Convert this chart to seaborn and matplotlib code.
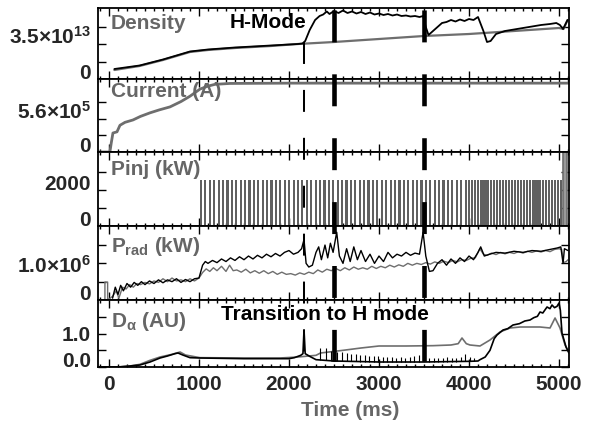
import numpy as np
import matplotlib
matplotlib.use("Agg")
import matplotlib.pyplot as plt
from matplotlib.ticker import MultipleLocator
import seaborn as sns

# ---- data (time in ms) ----
# Density (units of 1e13)
dens_t_gray = [60, 340, 600, 900, 1100, 1400, 1800, 2100, 2500, 3000, 3500, 4000, 4500, 5000, 5050, 5095]
dens_gray = [0.9, 1.3, 1.9, 2.7, 2.9, 3.1, 3.3, 3.5, 3.7, 4.0, 4.3, 4.5, 4.8, 5.1, 5.0, 5.9]
dens_t_black = [60, 340, 600, 900, 1100, 1400, 1800, 2100, 2150, 2180, 2230, 2290, 2340, 2380, 2420,
                2450, 2500, 2550, 2600, 2650, 2700, 2750, 2800, 2850, 2900, 2950, 3000, 3050, 3100,
                3150, 3200, 3250, 3300, 3350, 3400, 3450, 3490, 3520, 3550, 3600, 3650, 3700, 3750,
                3800, 3850, 3900, 3950, 4000, 4050, 4100, 4130, 4160, 4200, 4240, 4300, 4400, 4500,
                4600, 4700, 4800, 4900, 4970, 5010, 5045, 5095]
dens_black = [1.0, 1.35, 1.95, 2.75, 2.95, 3.15, 3.35, 3.5, 3.55, 3.8, 4.9, 5.9, 6.3, 6.45, 6.75,
              6.5, 6.8, 6.6, 6.85, 6.6, 6.75, 6.55, 6.7, 6.5, 6.65, 6.45, 6.55, 6.4, 6.5,
              6.35, 6.45, 6.3, 6.35, 6.25, 6.3, 6.2, 6.3, 5.2, 4.4, 4.8, 5.2, 5.6, 5.7,
              5.9, 5.75, 5.95, 5.8, 6.0, 5.9, 6.2, 5.5, 4.8, 3.7, 3.8, 4.5, 4.8, 4.95,
              5.1, 5.25, 5.4, 5.5, 5.6, 5.4, 5.0, 5.9]

# Plasma current (units of 1e5 A)
cur_t = [-120, 10, 25, 44, 89, 122, 178, 267, 350, 456, 560, 678, 800, 900, 1011, 1100, 1178, 1344, 2000, 5110]
cur = [0, 0, 1.5, 3.2, 3.4, 4.5, 5.0, 5.4, 6.0, 6.6, 7.1, 7.6, 8.5, 9.4, 10.6, 11.1, 11.4, 11.55, 11.6, 11.6]

# Injected beam power pulses (kW)
pinj_t = [1010, 1059, 1108, 1157, 1206, 1255, 1304, 1353, 1402, 1451, 1500, 1549, 1598, 1647, 1696,
          1745, 1794, 1843, 1892, 1941, 1990, 2039, 2088, 2137, 2186, 2235, 2284, 2333, 2382, 2431,
          2480, 2529, 2578, 2627, 2676, 2725, 2774, 2823, 2872, 2921, 2970, 3019, 3068, 3117, 3166,
          3215, 3264, 3313, 3362, 3411, 3460, 3509, 3558, 3607, 3656, 3705, 3754, 3803, 3852, 3901,
          3950, 3990, 4024, 4058, 4092, 4126, 4160, 4194, 4228, 4262, 4296, 4330, 4364, 4398, 4432,
          4466, 4500, 4534, 4568, 4602, 4636, 4670, 4704, 4738, 4772, 4806, 4840, 4874, 4908, 4942,
          4976, 5010]
pinj_level = 2560
pinj_last_t = 5040
pinj_last_level = 5000

# Radiated power (units of 1e6 kW)
prad_t_black = [40, 70, 100, 130, 160, 200, 240, 280, 320, 360, 400, 450, 500, 550, 600, 650, 700, 750,
                800, 850, 900, 950, 1000, 1040, 1070, 1100, 1150, 1200, 1250, 1300, 1350, 1400, 1450,
                1500, 1550, 1600, 1650, 1700, 1750, 1800, 1850, 1900, 1950, 2000, 2050, 2100, 2140,
                2167, 2190, 2220, 2260, 2300, 2330, 2360, 2400, 2430, 2460, 2490, 2530, 2560, 2600,
                2640, 2680, 2720, 2760, 2800, 2850, 2900, 2950, 3000, 3050, 3100, 3150, 3200, 3250,
                3300, 3350, 3400, 3450, 3490, 3520, 3560, 3600, 3650, 3700, 3750, 3800, 3850, 3900,
                3950, 4000, 4050, 4100, 4130, 4170, 4230, 4300, 4400, 4500, 4600, 4700, 4800, 4900,
                4980, 5020, 5045, 5060, 5100]
prad_black = [0.05, 0.35, 0.15, 0.40, 0.25, 0.45, 0.35, 0.48, 0.40, 0.50, 0.42, 0.52, 0.45, 0.55, 0.47,
              0.55, 0.50, 0.58, 0.48, 0.56, 0.50, 0.58, 0.60, 0.95, 1.05, 1.00, 1.08, 1.02, 1.12, 1.05,
              1.15, 1.08, 1.18, 1.10, 1.20, 1.12, 1.22, 1.15, 1.25, 1.18, 1.27, 1.20, 1.30, 1.35, 1.25,
              1.30, 1.40, 1.65, 1.00, 0.90, 0.95, 1.30, 1.45, 1.10, 1.50, 1.15, 1.55, 1.30, 1.85, 1.20,
              1.00, 1.40, 1.05, 1.45, 1.10, 1.35, 1.05, 1.25, 1.00, 1.20, 1.05, 1.30, 1.15, 1.25, 1.20,
              1.30, 1.22, 1.28, 1.25, 1.85, 1.20, 0.78, 0.80, 1.00, 1.10, 0.95, 1.12, 1.00, 1.15, 1.05,
              1.20, 1.10, 1.30, 1.45, 1.20, 1.25, 1.30, 1.28, 1.33, 1.30, 1.35, 1.33, 1.38, 1.42, 1.45,
              1.00, 1.40, 1.35]
prad_t_gray = [-120, -45, -45, -15, -15, 40, 80, 110, 150, 190, 230, 270, 310, 350, 400, 450, 500, 550,
               600, 650, 700, 750, 800, 850, 900, 950, 1000, 1040, 1080, 1120, 1160, 1200, 1250, 1300,
               1340, 1380, 1420, 1470, 1520, 1570, 1620, 1670, 1720, 1770, 1820, 1870, 1920, 1970,
               2020, 2070, 2120, 2170, 2220, 2270, 2320, 2370, 2420, 2470, 2520, 2570, 2620, 2670,
               2720, 2770, 2820, 2870, 2920, 2970, 3020, 3070, 3120, 3170, 3220, 3270, 3320, 3370,
               3420, 3470, 3520, 3570, 3620, 3670, 3720, 3770, 3820, 3870, 3920, 3970, 4020, 4070,
               4120, 4160, 4200, 4250, 4300, 4350, 4400, 4450, 4500, 4550, 4600, 4650, 4700, 4750,
               4800, 4850, 4900, 4950, 5000, 5030, 5050, 5080, 5100]
prad_gray = [0, 0, 0.49, 0.49, 0, 0.10, 0.25, 0.05, 0.35, 0.30, 0.42, 0.35, 0.45, 0.42, 0.48, 0.44,
             0.52, 0.48, 0.58, 0.50, 0.60, 0.52, 0.55, 0.50, 0.58, 0.52, 0.60, 0.75, 0.85, 0.78, 0.88,
             0.80, 0.92, 0.78, 0.95, 0.80, 0.82, 0.76, 0.84, 0.74, 0.80, 0.73, 0.80, 0.72, 0.78, 0.70,
             0.76, 0.70, 0.72, 0.68, 0.74, 0.70, 0.76, 0.72, 0.82, 0.76, 0.84, 0.80, 0.86, 0.80, 0.88,
             0.82, 0.90, 0.84, 0.88, 0.84, 0.92, 0.86, 0.92, 0.88, 0.95, 0.90, 0.96, 0.92, 1.00, 0.95,
             1.00, 0.97, 1.02, 0.98, 1.04, 1.00, 1.06, 1.02, 1.08, 1.04, 1.10, 1.08, 1.14, 1.15, 1.40,
             1.25, 1.22, 1.28, 1.24, 1.30, 1.26, 1.30, 1.27, 1.32, 1.28, 1.33, 1.30, 1.34, 1.31, 1.35,
             1.32, 1.38, 1.40, 1.38, 1.02, 1.05, 1.10]

# D-alpha (AU)
da_t_black = [-120, 100, 233, 344, 456, 567, 650, 733, 767, 820, 900, 1011, 1500, 2000, 2060, 2130,
              2155, 2167, 2180, 2230, 2300, 2500, 3000, 3500, 4000, 4100, 4122, 4180, 4233, 4280,
              4311, 4378, 4430, 4489, 4560, 4620, 4678, 4720, 4760, 4789, 4820, 4867, 4900, 4922,
              4950, 4978, 5000, 5015, 5033, 5078, 5110]
da_black = [0, 0, 0.03, 0.06, 0.15, 0.27, 0.33, 0.40, 0.42, 0.36, 0.28, 0.27, 0.25, 0.25, 0.28, 0.35,
            0.40, 1.11, 0.40, 0.32, 0.22, 0.18, 0.15, 0.15, 0.17, 0.18, 0.22, 0.30, 0.50, 0.85,
            0.96, 1.11, 1.15, 1.26, 1.30, 1.38, 1.41, 1.48, 1.52, 1.65, 1.62, 1.80, 1.75, 1.86,
            1.78, 1.82, 1.92, 1.70, 1.02, 0.60, 0.42]
da_t_gray = [-120, 100, 233, 344, 456, 567, 700, 790, 850, 1011, 1500, 1900, 2100, 2300, 2350, 2600,
             2800, 3000, 3300, 3600, 3800, 3880, 3922, 3970, 4011, 4122, 4233, 4344, 4456, 4567,
             4789, 4900, 4956, 5011, 5067, 5110]
da_gray = [0, 0, 0.03, 0.08, 0.20, 0.30, 0.38, 0.45, 0.36, 0.28, 0.27, 0.27, 0.30, 0.35, 0.42, 0.50,
           0.57, 0.63, 0.63, 0.64, 0.66, 0.70, 0.87, 0.70, 0.66, 0.63, 0.81, 1.05, 1.17, 1.20,
           1.20, 1.17, 1.47, 1.17, 0.66, 0.45]
elm_t = [2344, 2411, 2470, 2530, 2590, 2640, 2690, 2740, 2790, 2840, 2890, 2940, 2990, 3040, 3090,
         3140, 3190, 3240, 3290, 3340, 3390, 3440, 3560, 3610, 3660, 3710, 3760, 3810, 3860, 3910,
         3960, 4010, 4060]
elm_peak = [0.57, 0.57, 0.48, 0.46, 0.45, 0.42, 0.40, 0.38, 0.36, 0.35, 0.33, 0.33, 0.32, 0.30, 0.30,
            0.30, 0.28, 0.30, 0.28, 0.30, 0.32, 0.35, 0.28, 0.26, 0.28, 0.26, 0.30, 0.28, 0.26, 0.30,
            0.38, 0.30, 0.28]

event_t = [2167, 2500, 3500]   # thin dashed, thick dashed, thick dashed

panel_names = ["Density", "Current (A)", "Pinj (kW)", r"$P_{rad}$ (kW)", r"$D_{\alpha}$ (AU)"]
panel_ticks = [[0, 1.75, 3.5, 5.25], [0, 2.8, 5.6, 8.4], [0, 1000, 2000, 3000],
               [0, 0.5, 1.0, 1.5], [0, 0.5, 1.0, 1.5]]
panel_ticklabels = [["0", "", r"$3.5{\times}10^{13}$", ""],
                    ["0", "", r"$5.6{\times}10^{5}$", ""],
                    ["0", "", "2000", ""],
                    ["0", "", r"$1.0{\times}10^{6}$", ""],
                    ["0.0", "", "1.0", ""]]
panel_ylim = [7.1, 12.3, 4110, 2.02, 2.01]
x_ticks = [0, 1000, 2000, 3000, 4000, 5000]

# ---- style ----
sns.set_theme(style="ticks")
plt.rcParams["font.family"] = ["Liberation Sans", "DejaVu Sans"]
plt.rcParams["font.weight"] = "bold"
plt.rcParams["mathtext.fontset"] = "custom"
plt.rcParams["mathtext.rm"] = "Liberation Sans:bold"
plt.rcParams["mathtext.it"] = "Liberation Sans:bold"
plt.rcParams["mathtext.bf"] = "Liberation Sans:bold"
plt.rcParams["lines.scale_dashes"] = False

GRAY = "#6e6e6e"
LABEL_GRAY = "#666666"
FS = 15

fig = plt.figure(figsize=(5.96, 4.28), dpi=100)
W, H = 596.0, 428.0
x0, x1 = 98, 569
edges = [8, 79, 152, 226, 300, 367]
xlim = (-122, 5111)

axes = []
for i in range(5):
    top, bot = edges[i], edges[i + 1]
    ax = fig.add_axes([x0 / W, 1 - bot / H, (x1 - x0) / W, (bot - top) / H])
    axes.append(ax)

# traces
ax = axes[0]
sns.lineplot(x=dens_t_gray, y=dens_gray, ax=ax, color=GRAY, lw=1.6, estimator=None, sort=False)
sns.lineplot(x=dens_t_black, y=dens_black, ax=ax, color="black", lw=1.3, estimator=None, sort=False)

ax = axes[1]
sns.lineplot(x=cur_t, y=cur, ax=ax, color=GRAY, lw=2.0, estimator=None, sort=False)

ax = axes[2]
ax.bar(pinj_t, [pinj_level] * len(pinj_t), width=24, align="edge", color="#606060", linewidth=0)
ax.bar([pinj_last_t], [pinj_last_level], width=45, align="edge", color="#9a9a9a",
       edgecolor=GRAY, linewidth=1.2)

ax = axes[3]
sns.lineplot(x=prad_t_gray, y=prad_gray, ax=ax, color=GRAY, lw=1.0, estimator=None, sort=False)
sns.lineplot(x=prad_t_black, y=prad_black, ax=ax, color="black", lw=1.0, estimator=None, sort=False)

ax = axes[4]
sns.lineplot(x=da_t_gray, y=da_gray, ax=ax, color=GRAY, lw=1.2, estimator=None, sort=False)
sns.lineplot(x=da_t_black, y=da_black, ax=ax, color="black", lw=1.2, estimator=None, sort=False)
ax.vlines(elm_t, np.interp(elm_t, da_t_black, da_black), elm_peak, color="black", lw=0.8)

label_dy = [-4, -2.5, -6, -6.5, -7.5]
label_va = ["baseline", "baseline", "baseline", "center_baseline", "center_baseline"]
for i, ax in enumerate(axes):
    ax.set_xlim(*xlim)
    ax.set_ylim(0, panel_ylim[i])
    ax.set_xticks(x_ticks)
    ax.xaxis.set_minor_locator(MultipleLocator(100))
    ax.set_yticks(panel_ticks[i])
    ax.set_yticklabels(panel_ticklabels[i], fontsize=FS, fontweight="bold")
    for j, lab in enumerate(ax.get_yticklabels()):
        lab.set_va("baseline" if j == 0 else label_va[i])
    ax.tick_params(axis="both", which="both", direction="in", top=True, right=True,
                   color="black", width=1.0)
    ax.tick_params(axis="both", which="major", length=6)
    ax.tick_params(axis="x", which="minor", length=2.5)
    ax.tick_params(axis="y", which="major", pad=5)
    ax.set_xlabel("")
    ax.set_ylabel("")
    for s in ax.spines.values():
        s.set_linewidth(1.3)
        s.set_color("black")
    if i < 4:
        ax.tick_params(axis="x", labelbottom=False)
    else:
        ax.set_xticklabels([str(v) for v in x_ticks], fontsize=FS, fontweight="bold")
        ax.tick_params(axis="x", which="major", pad=6)
    ax.annotate(panel_names[i], xy=(0, 1), xycoords="axes fraction", xytext=(9, label_dy[i]),
                textcoords="offset points", ha="left", va="top", fontsize=FS,
                fontweight="bold", color=LABEL_GRAY)

axes[0].text((268 - x0) / (x1 - x0), (79 - 23) / 71.0, "H-Mode", transform=axes[0].transAxes,
             ha="center", va="center", fontsize=FS, fontweight="bold", color="black")
axes[4].text((325 - x0) / (x1 - x0), (367 - 315) / 67.0, "Transition to H mode",
             transform=axes[4].transAxes, ha="center", va="center", fontsize=FS,
             fontweight="bold", color="black")

fig.text(350 / W, 1 - 410 / H, "Time (ms)", ha="center", va="center", fontsize=FS,
         fontweight="bold", color=LABEL_GRAY)

# dashed event lines across all panels
ov = fig.add_axes([x0 / W, 1 - 367 / H, (x1 - x0) / W, (367 - 8) / H])
ov.set_xlim(*xlim)
ov.set_ylim(0, 1)
ov.axis("off")
ov.plot([event_t[0], event_t[0]], [1 - 34 / 359.0, 0], color="black", lw=1.45,
        linestyle=(0, (15.8, 18.7)))
for t in event_t[1:]:
    ov.plot([t, t], [1, 0], color="black", lw=3.3, linestyle=(44.6, (23.0, 23.0)),
            solid_capstyle="butt", dash_capstyle="butt")

fig.savefig("out.png", dpi=100)
